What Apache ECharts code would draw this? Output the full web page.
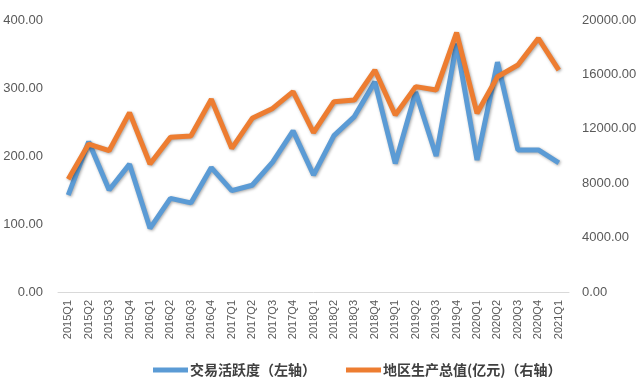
<!DOCTYPE html>
<html><head><meta charset="utf-8">
<script src="https://cdn.jsdelivr.net/npm/echarts@6/dist/echarts.min.js"></script>
<style>html,body{margin:0;padding:0;background:#fff}#c{width:640px;height:387px}</style>
</head><body><div id="c"></div>
<script>
var categories = ["2015Q1","2015Q2","2015Q3","2015Q4","2016Q1","2016Q2","2016Q3","2016Q4","2017Q1","2017Q2","2017Q3","2017Q4","2018Q1","2018Q2","2018Q3","2018Q4","2019Q1","2019Q2","2019Q3","2019Q4","2020Q1","2020Q2","2020Q3","2020Q4","2021Q1"];
var activity = [142.6,221,150,188,93.6,137.7,131,183,149,157,191,237,172,230,258,309,189,294,200,365,194,338,209,209,190];
var gdp = [8285,10880,10390,13190,9410,11370,11470,14170,10560,12770,13500,14730,11720,13990,14120,16320,13020,15100,14850,19070,13140,15830,16690,18650,16320];
var leftTicks = {min:0,max:400,interval:100};
var rightTicks = {min:0,max:20000,interval:4000};
var seriesNames = ["交易活跃度（左轴）","地区生产总值(亿元)（右轴）"];

var chart = echarts.init(document.getElementById('c'), null, {renderer:'canvas'});
var font = '"Noto Sans CJK SC", "Microsoft YaHei", sans-serif';
var numFont = '"Liberation Sans", sans-serif';
chart.setOption({
  animation:false,
  textStyle:{fontFamily:font},
  grid:{left:58,right:71,top:20,bottom:95,containLabel:false},
  legend:{
    top:358,left:148,itemGap:30,
    itemWidth:35,itemHeight:5,icon:'rect',
    textStyle:{color:'#404040',fontSize:14,fontWeight:'bold',fontFamily:font,padding:[0,0,0,-3]},
    data:seriesNames
  },
  xAxis:{
    type:'category',data:categories,boundaryGap:true,
    axisLine:{lineStyle:{color:'#d9d9d9',width:1}},
    axisTick:{show:false},
    axisLabel:{rotate:90,interval:0,color:'#595959',fontSize:11,fontFamily:numFont,margin:8}
  },
  yAxis:[{
    type:'value',min:leftTicks.min,max:leftTicks.max,interval:leftTicks.interval,
    axisLine:{show:false},axisTick:{show:false},splitLine:{show:false},
    axisLabel:{color:'#595959',fontSize:13,margin:15,fontFamily:numFont,formatter:function(v){return v.toFixed(2);}}
  },{
    type:'value',min:rightTicks.min,max:rightTicks.max,interval:rightTicks.interval,
    axisLine:{show:false},axisTick:{show:false},splitLine:{show:false},
    axisLabel:{color:'#595959',fontSize:13,margin:13,fontFamily:numFont,formatter:function(v){return v.toFixed(2);}}
  }],
  series:[{
    name:seriesNames[0],type:'line',yAxisIndex:0,data:activity,
    symbol:'none',smooth:false,
    itemStyle:{color:'#5B9BD5'},
    lineStyle:{color:'#5B9BD5',width:5,shadowColor:'rgba(0,0,0,0.35)',shadowBlur:3,shadowOffsetX:1,shadowOffsetY:1}
  },{
    name:seriesNames[1],type:'line',yAxisIndex:1,data:gdp,
    symbol:'none',smooth:false,
    itemStyle:{color:'#ED7D31'},
    lineStyle:{color:'#ED7D31',width:5,shadowColor:'rgba(0,0,0,0.35)',shadowBlur:3,shadowOffsetX:1,shadowOffsetY:1}
  }]
});
</script></body></html>
